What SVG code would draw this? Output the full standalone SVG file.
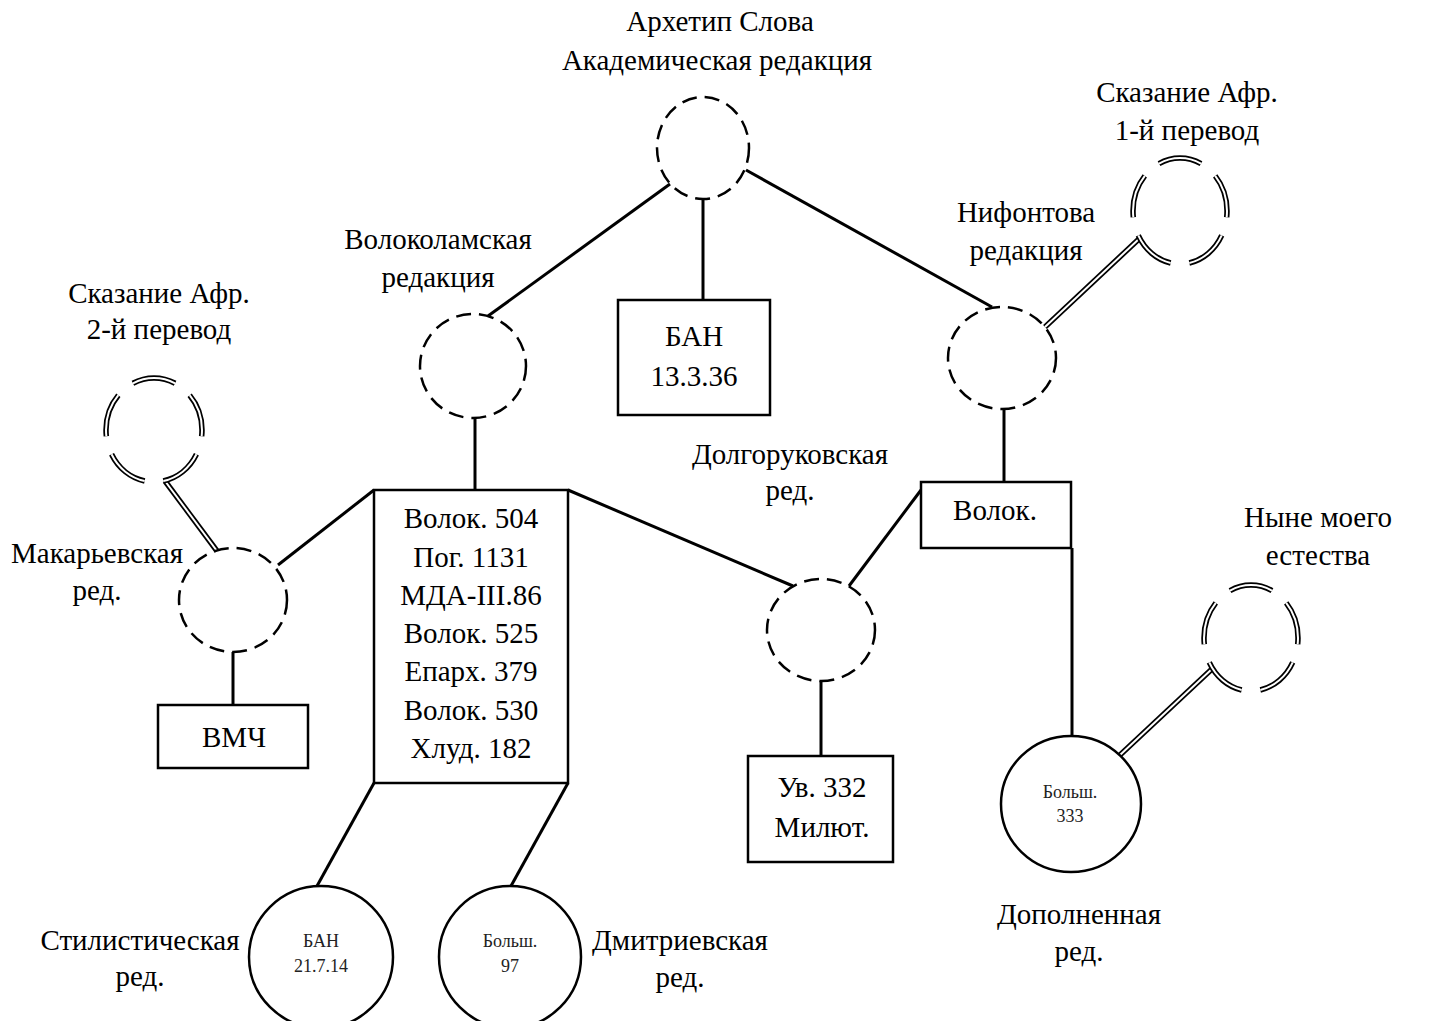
<svg xmlns="http://www.w3.org/2000/svg" width="1436" height="1021" viewBox="0 0 1436 1021">
<style>
text{font-family:"Liberation Serif","Times New Roman",serif;font-size:29px;fill:#000;text-anchor:middle}
text.s{font-size:18px;fill:#222}
.dash{fill:none;stroke:#000;stroke-width:2.5;stroke-dasharray:15 8}
.solid{fill:#fff;stroke:#000;stroke-width:2.5}
.box{fill:#fff;stroke:#000;stroke-width:2.5}
.dbo{fill:none;stroke:#000;stroke-width:5.5;stroke-dasharray:14 6;stroke-dashoffset:12}
.dbi{fill:none;stroke:#fff;stroke-width:2;stroke-dasharray:14 6;stroke-dashoffset:12}
.ln{stroke:#000;stroke-width:3;fill:none}
.l2o{stroke:#000;stroke-width:5.5;fill:none}
.l2i{stroke:#fff;stroke-width:2;fill:none}
</style>
<rect width="1436" height="1021" fill="#fff"/>
<g id="connectors">
<line class="ln" x1="670" y1="184" x2="488" y2="316"/>
<line class="ln" x1="703" y1="199" x2="703" y2="300"/>
<line class="ln" x1="746" y1="170" x2="992" y2="307"/>
<line class="ln" x1="475" y1="418" x2="475" y2="490"/>
<line class="ln" x1="374" y1="490" x2="278" y2="565"/>
<line class="ln" x1="568" y1="490" x2="793" y2="586"/>
<line class="ln" x1="233" y1="652" x2="233" y2="705"/>
<line class="ln" x1="374" y1="783" x2="317" y2="886"/>
<line class="ln" x1="568" y1="783" x2="511" y2="886"/>
<line class="ln" x1="1004" y1="409" x2="1004" y2="482"/>
<line class="ln" x1="921" y1="490" x2="849" y2="586"/>
<line class="ln" x1="1072" y1="548" x2="1072" y2="736"/>
<line class="ln" x1="821" y1="681" x2="821" y2="756"/>
<line class="l2o" x1="165" y1="481" x2="217" y2="551"/>
<line class="l2i" x1="165" y1="481" x2="217" y2="551"/>
<line class="l2o" x1="1140" y1="238" x2="1045" y2="327"/>
<line class="l2i" x1="1140" y1="238" x2="1045" y2="327"/>
<line class="l2o" x1="1213" y1="668" x2="1120" y2="755"/>
<line class="l2i" x1="1213" y1="668" x2="1120" y2="755"/>
</g>
<g id="archetype">
<ellipse class="dash" cx="703" cy="148" rx="46" ry="51"/>
<text x="720" y="31">Архетип Слова</text>
<text x="717" y="70">Академическая редакция</text>
</g>
<g id="volokolamsk">
<ellipse class="dash" cx="473" cy="366" rx="53" ry="52"/>
<text x="438" y="249">Волоколамская</text>
<text x="438" y="287">редакция</text>
</g>
<g id="nifont">
<ellipse class="dash" cx="1002" cy="358" rx="54" ry="51"/>
<text x="1026" y="222">Нифонтова</text>
<text x="1026" y="260">редакция</text>
</g>
<g id="makariev">
<ellipse class="dash" cx="233" cy="600" rx="54" ry="52"/>
<text x="97" y="563">Макарьевская</text>
<text x="97" y="600">ред.</text>
</g>
<g id="dolgorukov">
<ellipse class="dash" cx="821" cy="630" rx="54" ry="51"/>
<text x="790" y="464">Долгоруковская</text>
<text x="790" y="500">ред.</text>
</g>
<g id="skaz2">
<ellipse class="dbo" cx="154" cy="430" rx="48" ry="52" pathLength="100"/>
<ellipse class="dbi" cx="154" cy="430" rx="48" ry="52" pathLength="100"/>
<text x="159" y="303">Сказание Афр.</text>
<text x="159" y="339">2-й перевод</text>
</g>
<g id="skaz1">
<ellipse class="dbo" cx="1180" cy="211" rx="47" ry="53" pathLength="100"/>
<ellipse class="dbi" cx="1180" cy="211" rx="47" ry="53" pathLength="100"/>
<text x="1187" y="102">Сказание Афр.</text>
<text x="1187" y="140">1-й перевод</text>
</g>
<g id="nyne">
<ellipse class="dbo" cx="1251" cy="638" rx="47" ry="53" pathLength="100"/>
<ellipse class="dbi" cx="1251" cy="638" rx="47" ry="53" pathLength="100"/>
<text x="1318" y="527">Ныне моего</text>
<text x="1318" y="565">естества</text>
</g>
<g id="ban13">
<rect class="box" x="618" y="300" width="152" height="115"/>
<text x="694" y="346">БАН</text>
<text x="694" y="386">13.3.36</text>
</g>
<g id="mainbox">
<rect class="box" x="374" y="490" width="194" height="293"/>
<text x="471" y="528">Волок. 504</text>
<text x="471" y="567">Пог. 1131</text>
<text x="471" y="605">МДА-III.86</text>
<text x="471" y="643">Волок. 525</text>
<text x="471" y="681">Епарх. 379</text>
<text x="471" y="720">Волок. 530</text>
<text x="471" y="758">Хлуд. 182</text>
</g>
<g id="vmch">
<rect class="box" x="158" y="705" width="150" height="63"/>
<text x="234" y="747">ВМЧ</text>
</g>
<g id="uv332">
<rect class="box" x="748" y="756" width="145" height="106"/>
<text x="822" y="797">Ув. 332</text>
<text x="822" y="837">Милют.</text>
</g>
<g id="volok">
<rect class="box" x="921" y="482" width="150" height="66"/>
<text x="995" y="520">Волок.</text>
</g>
<g id="bolsh333">
<ellipse class="solid" cx="1071" cy="804" rx="70" ry="68"/>
<text class="s" x="1070" y="798">Больш.</text>
<text class="s" x="1070" y="822">333</text>
<text x="1079" y="924">Дополненная</text>
<text x="1079" y="961">ред.</text>
</g>
<g id="ban21">
<ellipse class="solid" cx="321" cy="957" rx="72" ry="71"/>
<text class="s" x="321" y="947">БАН</text>
<text class="s" x="321" y="972">21.7.14</text>
<text x="140" y="950">Стилистическая</text>
<text x="140" y="986">ред.</text>
</g>
<g id="bolsh97">
<ellipse class="solid" cx="510" cy="957" rx="71" ry="71"/>
<text class="s" x="510" y="947">Больш.</text>
<text class="s" x="510" y="972">97</text>
<text x="680" y="950">Дмитриевская</text>
<text x="680" y="987">ред.</text>
</g>
</svg>
